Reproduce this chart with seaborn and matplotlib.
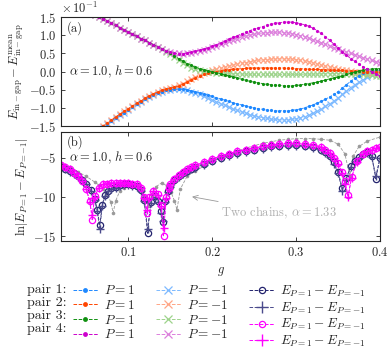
import numpy as np
import matplotlib
matplotlib.use("Agg")
import matplotlib.pyplot as plt
import seaborn as sns
from matplotlib.lines import Line2D

sns.set_style("ticks")
plt.rcParams['font.family'] = 'serif'
plt.rcParams['font.serif'] = ['cmr10']
plt.rcParams['mathtext.fontset'] = 'cm'
plt.rcParams['axes.formatter.use_mathtext'] = True

# ---- panel (a): in-gap energies minus their mean (units of 1e-1) ----
g_a = [0.060, 0.065, 0.070, 0.075, 0.080, 0.085, 0.090, 0.095, 0.100, 0.105,
       0.110, 0.115, 0.120, 0.125, 0.130, 0.135, 0.140, 0.145, 0.150, 0.155,
       0.160, 0.165, 0.170, 0.175, 0.180, 0.185, 0.190, 0.195, 0.200, 0.205,
       0.210, 0.215, 0.220, 0.225, 0.230, 0.235, 0.240, 0.245, 0.250, 0.255,
       0.260, 0.265, 0.270, 0.275, 0.280, 0.285, 0.290, 0.295, 0.300, 0.305,
       0.310, 0.315, 0.320, 0.325, 0.330, 0.335, 0.340, 0.345, 0.350, 0.355,
       0.360, 0.365, 0.370, 0.375, 0.380, 0.385, 0.390, 0.395, 0.400]

pair1_p = [-1.68, -1.60, -1.52, -1.44, -1.36, -1.28, -1.20, -1.13, -1.05, -0.97,
           -0.90, -0.83, -0.76, -0.70, -0.64, -0.59, -0.55, -0.52, -0.50, -0.49,
           -0.48, -0.49, -0.50, -0.53, -0.56, -0.59, -0.62, -0.65, -0.68, -0.72,
           -0.75, -0.79, -0.82, -0.86, -0.89, -0.92, -0.95, -0.98, -1.00, -1.02,
           -1.04, -1.06, -1.07, -1.08, -1.08, -1.08, -1.08, -1.07, -1.05, -1.03,
           -1.00, -0.96, -0.92, -0.87, -0.82, -0.76, -0.70, -0.63, -0.55, -0.46,
           -0.36, -0.27, -0.18, -0.11, -0.05, -0.02, 0.01, 0.02, 0.03]
pair1_m = [-1.68, -1.60, -1.52, -1.44, -1.36, -1.28, -1.20, -1.13, -1.05, -0.97,
           -0.90, -0.83, -0.76, -0.70, -0.64, -0.59, -0.55, -0.52, -0.50, -0.49,
           -0.49, -0.50, -0.52, -0.55, -0.59, -0.63, -0.68, -0.73, -0.78, -0.83,
           -0.88, -0.93, -0.98, -1.03, -1.07, -1.11, -1.15, -1.19, -1.22, -1.25,
           -1.27, -1.29, -1.31, -1.32, -1.33, -1.33, -1.33, -1.32, -1.30, -1.27,
           -1.24, -1.20, -1.15, -1.09, -1.03, -0.96, -0.89, -0.81, -0.72, -0.63,
           -0.53, -0.44, -0.36, -0.29, -0.22, -0.16, -0.10, -0.05, 0.00]
pair2_p = [-1.65, -1.57, -1.49, -1.41, -1.33, -1.25, -1.17, -1.10, -1.02, -0.95,
           -0.87, -0.80, -0.73, -0.67, -0.61, -0.56, -0.52, -0.49, -0.46, -0.43,
           -0.40, -0.35, -0.29, -0.23, -0.17, -0.12, -0.08, -0.05, -0.02, 0.00,
           0.02, 0.04, 0.05, 0.06, 0.07, 0.08, 0.09, 0.10, 0.10, 0.10,
           0.10, 0.10, 0.10, 0.10, 0.10, 0.10, 0.09, 0.09, 0.08, 0.08,
           0.07, 0.07, 0.06, 0.06, 0.05, 0.05, 0.04, 0.04, 0.03, 0.03,
           0.02, 0.02, 0.01, 0.01, 0.00, 0.00, -0.01, -0.01, -0.02]
pair2_m = [-1.65, -1.57, -1.49, -1.41, -1.33, -1.25, -1.17, -1.10, -1.02, -0.95,
           -0.87, -0.80, -0.73, -0.67, -0.61, -0.56, -0.51, -0.48, -0.45, -0.42,
           -0.38, -0.33, -0.27, -0.21, -0.15, -0.10, -0.05, -0.01, 0.03, 0.06,
           0.09, 0.12, 0.15, 0.18, 0.20, 0.23, 0.25, 0.27, 0.29, 0.31,
           0.32, 0.33, 0.34, 0.35, 0.35, 0.35, 0.35, 0.34, 0.33, 0.31,
           0.29, 0.27, 0.24, 0.21, 0.18, 0.15, 0.12, 0.10, 0.07, 0.05,
           0.03, 0.01, 0.00, -0.01, -0.02, -0.03, -0.04, -0.05, -0.05]
pair3_p = [1.57, 1.51, 1.45, 1.39, 1.33, 1.27, 1.21, 1.15, 1.09, 1.03,
           0.97, 0.91, 0.86, 0.80, 0.74, 0.68, 0.62, 0.56, 0.50, 0.43,
           0.36, 0.29, 0.22, 0.17, 0.12, 0.08, 0.05, 0.02, -0.01, -0.03,
           -0.06, -0.09, -0.12, -0.15, -0.18, -0.21, -0.24, -0.27, -0.29, -0.31,
           -0.33, -0.35, -0.36, -0.37, -0.38, -0.39, -0.39, -0.39, -0.38, -0.37,
           -0.35, -0.33, -0.31, -0.29, -0.26, -0.23, -0.20, -0.18, -0.15, -0.12,
           -0.08, -0.05, -0.01, 0.02, 0.04, 0.06, 0.07, 0.08, 0.08]
pair3_m = [1.57, 1.51, 1.45, 1.39, 1.33, 1.27, 1.21, 1.15, 1.09, 1.03,
           0.97, 0.91, 0.86, 0.80, 0.74, 0.68, 0.61, 0.55, 0.48, 0.41,
           0.33, 0.25, 0.17, 0.11, 0.07, 0.04, 0.01, -0.01, -0.02, -0.03,
           -0.04, -0.05, -0.05, -0.06, -0.06, -0.07, -0.07, -0.08, -0.08, -0.08,
           -0.08, -0.08, -0.08, -0.08, -0.08, -0.08, -0.08, -0.08, -0.08, -0.08,
           -0.07, -0.07, -0.07, -0.07, -0.06, -0.06, -0.06, -0.06, -0.06, -0.06,
           -0.06, -0.06, -0.07, -0.07, -0.08, -0.09, -0.10, -0.11, -0.12]
pair4_p = [1.57, 1.51, 1.45, 1.39, 1.33, 1.27, 1.21, 1.15, 1.09, 1.03,
           0.97, 0.91, 0.86, 0.80, 0.74, 0.68, 0.62, 0.57, 0.53, 0.50,
           0.49, 0.49, 0.51, 0.53, 0.56, 0.59, 0.62, 0.66, 0.70, 0.74,
           0.79, 0.84, 0.89, 0.94, 0.99, 1.04, 1.08, 1.13, 1.17, 1.21,
           1.24, 1.27, 1.30, 1.33, 1.35, 1.36, 1.37, 1.36, 1.35, 1.32,
           1.29, 1.25, 1.20, 1.13, 1.05, 0.96, 0.86, 0.76, 0.65, 0.55,
           0.45, 0.36, 0.28, 0.20, 0.13, 0.06, 0.00, -0.06, -0.12]
pair4_m = [1.57, 1.51, 1.45, 1.39, 1.33, 1.27, 1.21, 1.15, 1.09, 1.03,
           0.97, 0.91, 0.86, 0.80, 0.74, 0.68, 0.63, 0.58, 0.54, 0.51,
           0.50, 0.49, 0.50, 0.52, 0.54, 0.57, 0.60, 0.63, 0.67, 0.71,
           0.75, 0.79, 0.83, 0.87, 0.91, 0.95, 0.98, 1.01, 1.03, 1.05,
           1.06, 1.07, 1.08, 1.08, 1.08, 1.07, 1.06, 1.04, 1.02, 0.99,
           0.96, 0.92, 0.88, 0.84, 0.80, 0.75, 0.71, 0.66, 0.62, 0.58,
           0.54, 0.50, 0.46, 0.42, 0.38, 0.34, 0.31, 0.27, 0.24]

# ---- panel (b): ln|E_{P=1} - E_{P=-1}| ----
g_navy = [0.02, 0.025, 0.03, 0.035, 0.04, 0.045, 0.05, 0.055, 0.06, 0.063,
          0.066, 0.069, 0.072, 0.076, 0.08, 0.085, 0.09, 0.095, 0.10, 0.105,
          0.11, 0.115, 0.119, 0.123, 0.127, 0.132, 0.136, 0.139, 0.141, 0.144,
          0.147, 0.15, 0.155, 0.16, 0.165, 0.17, 0.175, 0.18, 0.19, 0.20,
          0.21, 0.22, 0.23, 0.24, 0.25, 0.26, 0.27, 0.28, 0.29, 0.30,
          0.31, 0.32, 0.33, 0.335, 0.34, 0.345, 0.35, 0.355, 0.36, 0.365,
          0.37, 0.375, 0.38, 0.385, 0.39, 0.395, 0.40]
navy_circ = [-6.2, -6.4, -6.7, -7.0, -7.4, -7.8, -8.3, -9.1, -10.3, -11.6,
             -13.6, -11.0, -9.8, -9.2, -8.9, -8.7, -8.5, -8.4, -8.4, -8.5,
             -8.6, -9.1, -10.4, -14.6, -10.6, -9.9, -10.5, -11.8, -13.2, -10.5,
             -9.3, -8.6, -7.9, -7.4, -7.0, -6.7, -6.4, -6.2, -5.8, -5.4,
             -5.0, -4.7, -4.4, -4.2, -4.0, -3.8, -3.6, -3.5, -3.4, -3.4,
             -3.5, -3.7, -4.0, -4.3, -4.8, -5.6, -6.8, -8.9, -7.6, -6.1,
             -5.4, -4.9, -4.5, -4.3, -4.8, -7.7, -5.0]
navy_plus = [-6.3, -6.5, -6.8, -7.1, -7.5, -7.9, -8.4, -9.2, -10.4, -11.8,
             -14.1, -11.2, -9.9, -9.3, -9.0, -8.8, -8.6, -8.5, -8.5, -8.6,
             -8.7, -9.2, -10.5, -14.0, -10.7, -10.0, -10.6, -12.0, -13.0, -10.6,
             -9.4, -8.7, -8.0, -7.5, -7.1, -6.8, -6.5, -6.3, -5.9, -5.5,
             -5.1, -4.8, -4.5, -4.3, -4.1, -3.9, -3.7, -3.6, -3.5, -3.5,
             -3.6, -3.8, -4.1, -4.4, -4.9, -5.8, -7.0, -9.2, -7.8, -6.2,
             -5.5, -5.0, -4.6, -4.4, -4.9, -7.3, -5.1]

g_mag = [0.02, 0.025, 0.03, 0.035, 0.04, 0.045, 0.05, 0.054, 0.057, 0.06,
         0.065, 0.07, 0.075, 0.08, 0.085, 0.09, 0.095, 0.10, 0.105, 0.11,
         0.115, 0.119, 0.122, 0.125, 0.13, 0.135, 0.139, 0.142, 0.145, 0.148,
         0.15, 0.155, 0.16, 0.165, 0.17, 0.175, 0.18, 0.19, 0.20, 0.21,
         0.22, 0.23, 0.24, 0.25, 0.26, 0.27, 0.28, 0.29, 0.30, 0.31,
         0.32, 0.33, 0.335, 0.34, 0.345, 0.35, 0.355, 0.358, 0.362, 0.366,
         0.372, 0.38, 0.385, 0.39, 0.395, 0.40]
mag_circ = [-6.0, -6.2, -6.5, -6.9, -7.3, -8.0, -9.0, -10.5, -12.9, -9.9,
            -8.8, -8.4, -8.3, -8.2, -8.2, -8.2, -8.2, -8.2, -8.3, -8.4,
            -8.9, -10.0, -12.0, -10.0, -9.2, -9.6, -11.0, -15.0, -10.0, -8.9,
            -8.3, -7.7, -7.2, -6.8, -6.5, -6.2, -6.0, -5.6, -5.2, -4.8,
            -4.5, -4.2, -4.0, -3.8, -3.6, -3.4, -3.3, -3.2, -3.2, -3.3,
            -3.4, -3.7, -4.0, -4.4, -5.0, -5.7, -6.8, -8.0, -9.8, -7.5,
            -5.5, -4.5, -4.2, -4.0, -3.8, -3.7]
mag_plus = [-6.0, -6.2, -6.5, -6.9, -7.3, -8.0, -9.0, -10.6, -12.3, -10.0,
            -8.8, -8.4, -8.3, -8.2, -8.2, -8.2, -8.2, -8.2, -8.3, -8.4,
            -8.9, -10.1, -11.6, -10.1, -9.3, -9.7, -11.2, -13.9, -10.1, -9.0,
            -8.3, -7.7, -7.2, -6.8, -6.5, -6.2, -6.0, -5.6, -5.2, -4.8,
            -4.5, -4.2, -4.0, -3.8, -3.6, -3.4, -3.3, -3.2, -3.2, -3.3,
            -3.4, -3.7, -4.0, -4.4, -5.0, -5.8, -7.0, -8.3, -10.0, -7.6,
            -5.6, -4.5, -4.2, -4.0, -3.8, -3.7]

g_two = [0.02, 0.03, 0.04, 0.05, 0.06, 0.065, 0.07, 0.075, 0.079, 0.082,
         0.085, 0.09, 0.095, 0.10, 0.11, 0.115, 0.119, 0.124, 0.128, 0.133,
         0.14, 0.146, 0.151, 0.155, 0.158, 0.162, 0.17, 0.18, 0.19, 0.20,
         0.21, 0.22, 0.23, 0.24, 0.25, 0.26, 0.27, 0.28, 0.29, 0.30,
         0.31, 0.32, 0.33, 0.34, 0.35, 0.358, 0.364, 0.368, 0.375, 0.385,
         0.40]
two_chains = [-5.7, -6.2, -6.8, -7.4, -8.1, -8.5, -9.0, -9.7, -10.6, -12.0,
              -10.5, -9.2, -8.8, -8.5, -8.5, -9.0, -9.9, -11.2, -9.8, -8.7,
              -8.2, -8.6, -9.4, -10.5, -11.6, -9.0, -7.4, -6.7, -6.1, -5.5,
              -5.0, -4.6, -4.2, -3.8, -3.5, -3.2, -3.0, -2.8, -2.7, -2.6,
              -2.6, -2.6, -2.7, -2.8, -3.3, -4.5, -7.3, -4.8, -3.6, -2.9,
              -2.4]

c_p = ['#1e88ff', '#ff4500', '#109010', '#cc00cc']
c_m = ['#7dbaff', '#ffa585', '#9dd38b', '#dc80dc']
navy = '#23236e'
navy2 = '#4a4a8c'
mag = '#ff00ff'
grey = '#9a9a9a'

fig = plt.figure(figsize=(3.87, 3.5), dpi=100)
ax1 = fig.add_axes([0.158, 0.640, 0.824, 0.311])
ax2 = fig.add_axes([0.158, 0.311, 0.824, 0.311])

# panel (a)
series_p = [pair1_p, pair2_p, pair3_p, pair4_p]
series_m = [pair1_m, pair2_m, pair3_m, pair4_m]
for ys, c in zip(series_m, c_m):
    sns.lineplot(x=g_a, y=ys, ax=ax1, color=c, marker='x', markersize=4,
                 markeredgewidth=0.9, markeredgecolor=c, linestyle='--', linewidth=0.6)
for ys, c in zip(series_p, c_p):
    sns.lineplot(x=g_a, y=ys, ax=ax1, color=c, marker='o', markersize=2.3,
                 markeredgewidth=0, linestyle='--', linewidth=0.6)

ax1.set_xlim(0.02, 0.4)
ax1.set_ylim(-1.5, 1.5)
ax1.set_yticks([-1.5, -1.0, -0.5, 0.0, 0.5, 1.0, 1.5])
ax1.set_yticklabels(['$-1.5$', '$-1.0$', '$-0.5$', '$0.0$', '$0.5$', '$1.0$', '$1.5$'])
ax1.set_xticks([0.1, 0.2, 0.3, 0.4])
ax1.set_xticklabels([])
ax1.set_ylabel(r'$E_{\rm in-gap}-E^{\rm mean}_{\rm in-gap}$', fontsize=9, labelpad=2)
ax1.text(0.0, 1.01, r'$\times\,10^{-1}$', transform=ax1.transAxes, fontsize=9,
         ha='left', va='bottom')
ax1.text(0.018, 0.96, '(a)', transform=ax1.transAxes, fontsize=9, ha='left', va='top')
ax1.text(0.024, 0.0, r'$\alpha=1.0,\,h=0.6$', fontsize=9, ha='left', va='center',
         transform=ax1.get_yaxis_transform())

# panel (b)
sns.lineplot(x=g_two, y=two_chains, ax=ax2, color=grey, marker='o', markersize=2.6,
             markeredgewidth=0, linestyle='--', linewidth=0.6)
sns.lineplot(x=g_navy, y=navy_circ, ax=ax2, color=navy, marker='o', markersize=4.5,
             markerfacecolor='none', markeredgewidth=0.9, markeredgecolor=navy,
             linestyle='--', linewidth=0.6)
sns.lineplot(x=g_navy, y=navy_plus, ax=ax2, color=navy2, marker='+', markersize=6,
             markeredgewidth=1.0, markeredgecolor=navy2, linestyle='--', linewidth=0.6)
sns.lineplot(x=g_mag, y=mag_circ, ax=ax2, color=mag, marker='o', markersize=4.5,
             markerfacecolor='none', markeredgewidth=0.9, markeredgecolor=mag,
             linestyle='--', linewidth=0.6)
sns.lineplot(x=g_mag, y=mag_plus, ax=ax2, color=mag, marker='+', markersize=6,
             markeredgewidth=1.0, markeredgecolor=mag, linestyle='--', linewidth=0.6)

ax2.set_xlim(0.02, 0.4)
ax2.set_ylim(-15.6, -1.8)
ax2.set_yticks([-15, -10, -5])
ax2.set_yticklabels(['$-15$', '$-10$', '$-5$'])
ax2.set_xticks([0.1, 0.2, 0.3, 0.4])
ax2.set_xticklabels(['$0.1$', '$0.2$', '$0.3$', '$0.4$'])
ax2.set_xlabel('$g$', fontsize=9, labelpad=4)
ax2.set_ylabel(r'$\ln|E_{P=1}-E_{P=-1}|$', fontsize=9, labelpad=2)
ax2.text(0.018, 0.975, '(b)', transform=ax2.transAxes, fontsize=9, ha='left', va='top')
ax2.text(0.024, -5.0, r'$\alpha=1.0,\,h=0.6$', fontsize=9, ha='left', va='center',
         transform=ax2.get_yaxis_transform())
ax2.annotate(r'Two chains, $\alpha=1.33$', xy=(0.176, -9.97), xytext=(0.211, -12.0),
             fontsize=9, color='#b0b0b0', va='center', ha='left',
             arrowprops=dict(arrowstyle='->', color='#999999', lw=0.6, shrinkA=0, shrinkB=0))

for ax in (ax1, ax2):
    ax.tick_params(direction='in', top=True, right=True, labelsize=9, length=3, width=0.6)
    for s in ax.spines.values():
        s.set_linewidth(0.8)

# legend below the panels
handles = []
labels = []
for c in c_p:
    handles.append(Line2D([], [], color=c, marker='o', markersize=3.5, markeredgewidth=0,
                          linestyle='--', linewidth=0.7))
    labels.append('$P=1$')
for c in c_m:
    handles.append(Line2D([], [], color=c, marker='x', markersize=6, markeredgewidth=0.9,
                          linestyle='--', linewidth=0.7))
    labels.append('$P=-1$')
handles.append(Line2D([], [], color=navy, marker='o', markersize=4.5, markerfacecolor='none',
                      markeredgewidth=0.9, linestyle='--', linewidth=0.7))
handles.append(Line2D([], [], color=navy2, marker='+', markersize=8, markeredgewidth=1.0,
                      linestyle='--', linewidth=0.7))
handles.append(Line2D([], [], color=mag, marker='o', markersize=4.5, markerfacecolor='none',
                      markeredgewidth=0.9, linestyle='--', linewidth=0.7))
handles.append(Line2D([], [], color=mag, marker='+', markersize=8, markeredgewidth=1.0,
                      linestyle='--', linewidth=0.7))
labels += [r'$E_{P=1}-E_{P=-1}$'] * 4

fig.legend(handles, labels, ncol=3, loc='upper left', bbox_to_anchor=(0.188, 0.19),
           frameon=False, fontsize=9.5, handlelength=1.9, handletextpad=0.45,
           columnspacing=1.6, labelspacing=0.12, borderpad=0, borderaxespad=0)

row_labels = ['pair 1:', 'pair 2:', 'pair 3:', 'pair 4:']
for i, t in enumerate(row_labels):
    fig.text(0.07, 0.171 - i * 0.037, t, fontsize=10, ha='left', va='center')

fig.savefig('out.png', dpi=100)
